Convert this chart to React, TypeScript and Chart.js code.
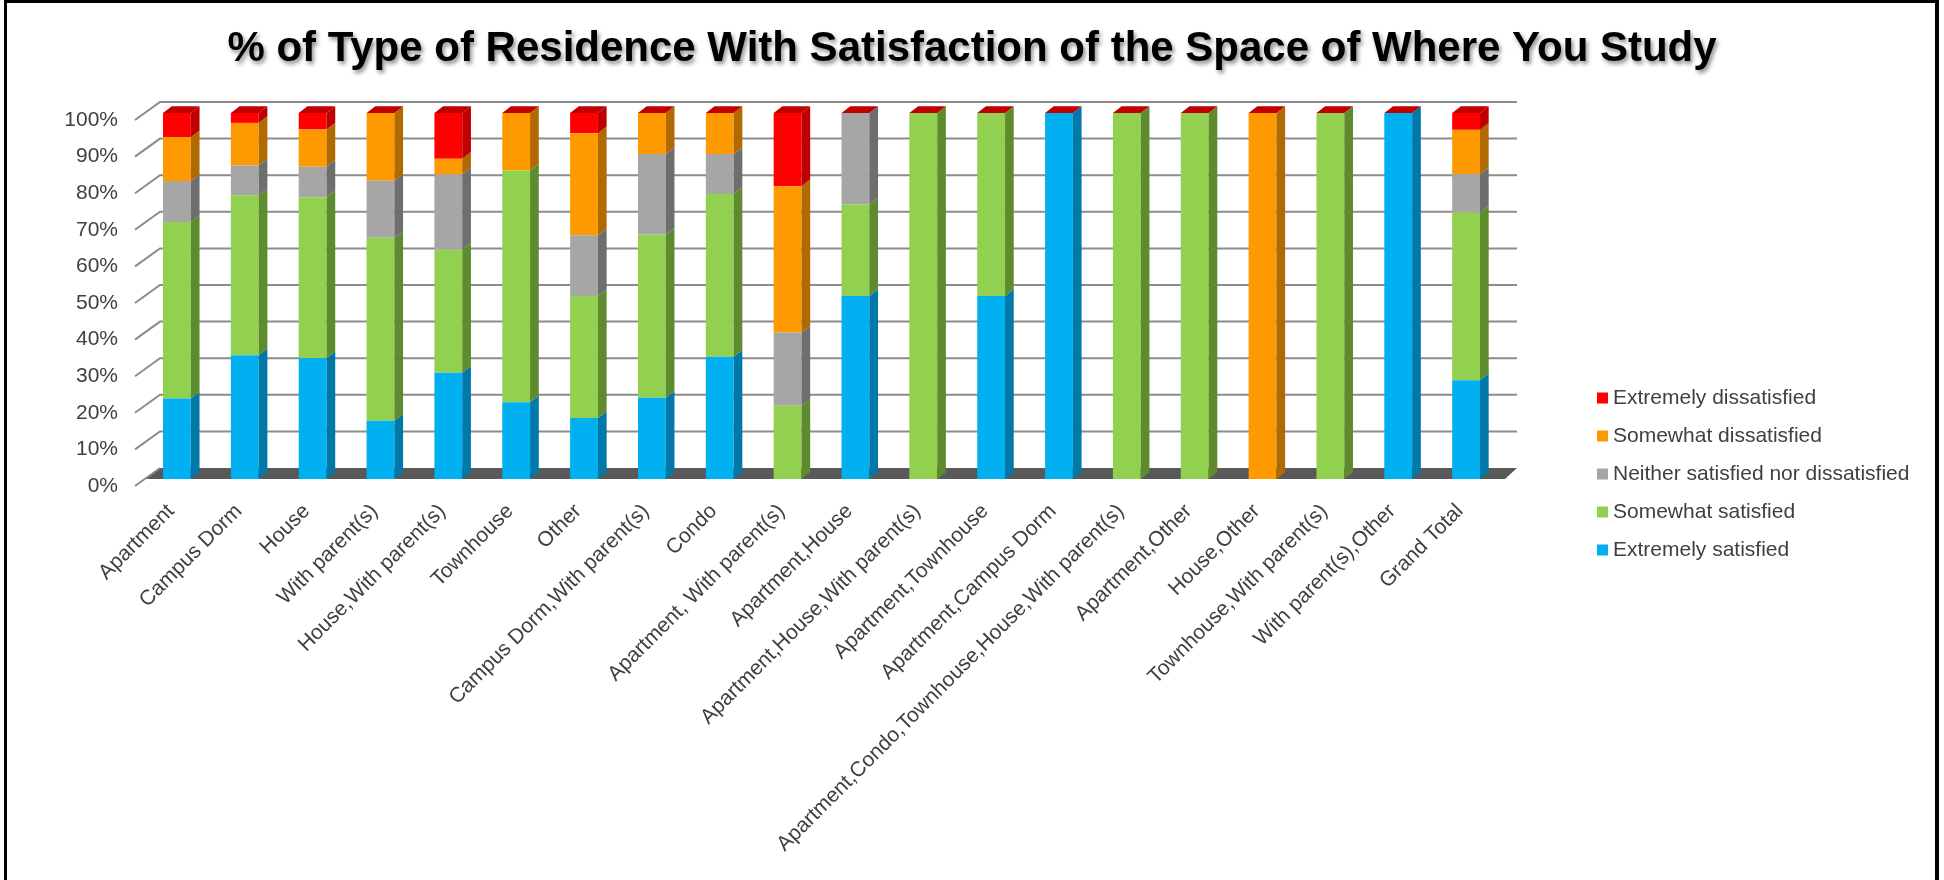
import { useEffect, useRef } from "react";
import { Chart, registerables } from "chart.js";

Chart.register(...registerables);

const chartTitle = "% of Type of Residence With Satisfaction of the Space of Where You Study";

const categories = [
  "Apartment",
  "Campus Dorm",
  "House",
  "With parent(s)",
  "House,With parent(s)",
  "Townhouse",
  "Other",
  "Campus Dorm,With parent(s)",
  "Condo",
  "Apartment, With parent(s)",
  "Apartment,House",
  "Apartment,House,With parent(s)",
  "Apartment,Townhouse",
  "Apartment,Campus Dorm",
  "Apartment,Condo,Townhouse,House,With parent(s)",
  "Apartment,Other",
  "House,Other",
  "Townhouse,With parent(s)",
  "With parent(s),Other",
  "Grand Total",
];

const seriesNames = [
  "Extremely satisfied",
  "Somewhat satisfied",
  "Neither satisfied nor dissatisfied",
  "Somewhat dissatisfied",
  "Extremely dissatisfied",
];

const extremelySatisfied = [22, 33.8, 33, 15.9, 29, 21, 16.7, 22.2, 33.4, 0, 50, 0, 50, 100, 0, 0, 0, 0, 100, 27];
const somewhatSatisfied = [48.2, 43.7, 44, 50, 33.7, 63.3, 33.3, 44.6, 44.5, 20, 25, 100, 50, 0, 100, 100, 0, 100, 0, 45.8];
const neitherSatisfied = [11.2, 8.2, 8.3, 15.6, 20.5, 0, 16.6, 22, 10.9, 20, 25, 0, 0, 0, 0, 0, 0, 0, 0, 10.5];
const somewhatDissatisfied = [12, 11.6, 10.2, 18.5, 4.3, 15.7, 27.9, 11.2, 11.2, 40, 0, 0, 0, 0, 0, 0, 100, 0, 0, 12.1];
const extremelyDissatisfied = [6.6, 2.7, 4.5, 0, 12.5, 0, 5.5, 0, 0, 20, 0, 0, 0, 0, 0, 0, 0, 0, 0, 4.6];

const yTickStep = 10;
const yMax = 100;

const faceColors = ["#00B0F0", "#92D050", "#A6A6A6", "#FF9900", "#FF0000"];
const sideColors = ["#0078A8", "#5F8B2F", "#6E6E6E", "#B06A00", "#C00000"];
const capColor = "#C00000";

const FONT = '"Liberation Sans", Arial, sans-serif';

const threeDPlugin = {
  id: "threeD",
  beforeDatasetsDraw(chart: any) {
    const { ctx, chartArea: ca, scales } = chart;
    const y = scales.y;
    const wallDX = 17;
    const wallDY = 11;
    ctx.save();
    ctx.fillStyle = "#595959";
    ctx.beginPath();
    ctx.moveTo(ca.left + 2, ca.bottom);
    ctx.lineTo(ca.left + wallDX, ca.bottom - wallDY);
    ctx.lineTo(ca.right + wallDX, ca.bottom - wallDY);
    ctx.lineTo(ca.right + 5, ca.bottom);
    ctx.closePath();
    ctx.fill();
    ctx.strokeStyle = "#8C8C8C";
    ctx.lineWidth = 2;
    y.ticks.forEach((t: any) => {
      const yy = y.getPixelForValue(t.value);
      ctx.beginPath();
      ctx.moveTo(ca.left - 8, yy + 7);
      ctx.lineTo(ca.left + wallDX, yy - wallDY);
      if (t.value !== 0) ctx.lineTo(ca.right + wallDX, yy - wallDY);
      ctx.stroke();
    });
    ctx.restore();
  },
  afterDatasetsDraw(chart: any) {
    const { ctx } = chart;
    const dx = 8.7;
    const dy = 6.7;
    ctx.save();
    const n = chart.data.datasets.length;
    for (let i = 0; i < n; i++) {
      const meta = chart.getDatasetMeta(i);
      meta.data.forEach((el: any) => {
        const p = el.getProps(["x", "y", "base", "width"], true);
        const r = p.x + p.width / 2;
        if (Math.abs(p.base - p.y) > 0.3) {
          ctx.fillStyle = sideColors[i];
          ctx.beginPath();
          ctx.moveTo(r, p.y);
          ctx.lineTo(r + dx, p.y - dy);
          ctx.lineTo(r + dx, p.base - dy);
          ctx.lineTo(r, p.base);
          ctx.closePath();
          ctx.fill();
        }
      });
    }
    const top = chart.getDatasetMeta(n - 1);
    top.data.forEach((el: any) => {
      const p = el.getProps(["x", "y", "width"], true);
      const l = p.x - p.width / 2;
      const r = p.x + p.width / 2;
      ctx.fillStyle = capColor;
      ctx.beginPath();
      ctx.moveTo(l, p.y);
      ctx.lineTo(r, p.y);
      ctx.lineTo(r + dx, p.y - dy);
      ctx.lineTo(l + dx, p.y - dy);
      ctx.closePath();
      ctx.fill();
    });
    ctx.restore();
  },
};

const decorPlugin = {
  id: "decor",
  afterDraw(chart: any) {
    const { ctx } = chart;
    ctx.save();
    ctx.fillStyle = "#000000";
    ctx.fillRect(4, 0, 1935, 3);
    ctx.fillRect(4, 0, 3, 880);
    ctx.fillRect(1935, 0, 4, 880);
    ctx.font = `bold 42px ${FONT}`;
    ctx.textAlign = "center";
    ctx.textBaseline = "middle";
    ctx.shadowColor = "rgba(0,0,0,0.45)";
    ctx.shadowOffsetX = 2;
    ctx.shadowOffsetY = 3;
    ctx.shadowBlur = 4;
    ctx.fillStyle = "#000000";
    ctx.fillText(chartTitle, 972, 49);
    ctx.shadowColor = "transparent";
    const ds = chart.data.datasets;
    ctx.font = `21px ${FONT}`;
    ctx.textAlign = "left";
    ctx.textBaseline = "middle";
    const legendX = 1597;
    const legendY = 398;
    const gap = 38;
    for (let k = 0; k < ds.length; k++) {
      const d = ds[ds.length - 1 - k];
      const yy = legendY + k * gap;
      ctx.fillStyle = d.backgroundColor;
      ctx.fillRect(legendX, yy - 5.5, 11, 11);
      ctx.fillStyle = "#404040";
      ctx.fillText(d.label, legendX + 16, yy);
    }
    ctx.restore();
  },
};

export default function App() {
  const ref = useRef<HTMLCanvasElement | null>(null);
  useEffect(() => {
    if (!ref.current) return;
    const seriesData = [
      extremelySatisfied,
      somewhatSatisfied,
      neitherSatisfied,
      somewhatDissatisfied,
      extremelyDissatisfied,
    ];
    const chart = new Chart(ref.current, {
      type: "bar",
      data: {
        labels: categories,
        datasets: seriesData.map((d, i) => ({
          label: seriesNames[i],
          data: d,
          backgroundColor: faceColors[i],
          borderWidth: 0,
          categoryPercentage: 1,
          barPercentage: 0.41,
        })),
      },
      options: {
        responsive: false,
        animation: false,
        devicePixelRatio: 1,
        layout: { padding: { top: 113, right: 444, left: 0, bottom: 0 } },
        plugins: {
          legend: { display: false },
          title: { display: false },
          tooltip: { enabled: false },
        },
        scales: {
          x: {
            stacked: true,
            grid: { display: false, drawTicks: false },
            border: { display: false },
            ticks: {
              autoSkip: false,
              minRotation: 45,
              maxRotation: 45,
              color: "#404040",
              font: { family: FONT, size: 21 },
              padding: 20,
              labelOffset: -6,
            },
            afterFit(scale: any) {
              scale.height = 401;
            },
          },
          y: {
            stacked: true,
            min: 0,
            max: yMax,
            grid: { display: false, drawTicks: false },
            border: { display: false },
            ticks: {
              stepSize: yTickStep,
              color: "#404040",
              font: { family: FONT, size: 21 },
              padding: 25,
              labelOffset: 7,
              callback: (v: any) => `${v}%`,
            },
            afterFit(scale: any) {
              scale.width = 143;
            },
          },
        },
      },
      plugins: [threeDPlugin, decorPlugin],
    });
    return () => chart.destroy();
  }, []);
  return (
    <canvas
      ref={ref}
      width={1944}
      height={880}
      style={{ position: "absolute", left: 0, top: 0, width: 1944, height: 880, background: "#ffffff" }}
    />
  );
}
